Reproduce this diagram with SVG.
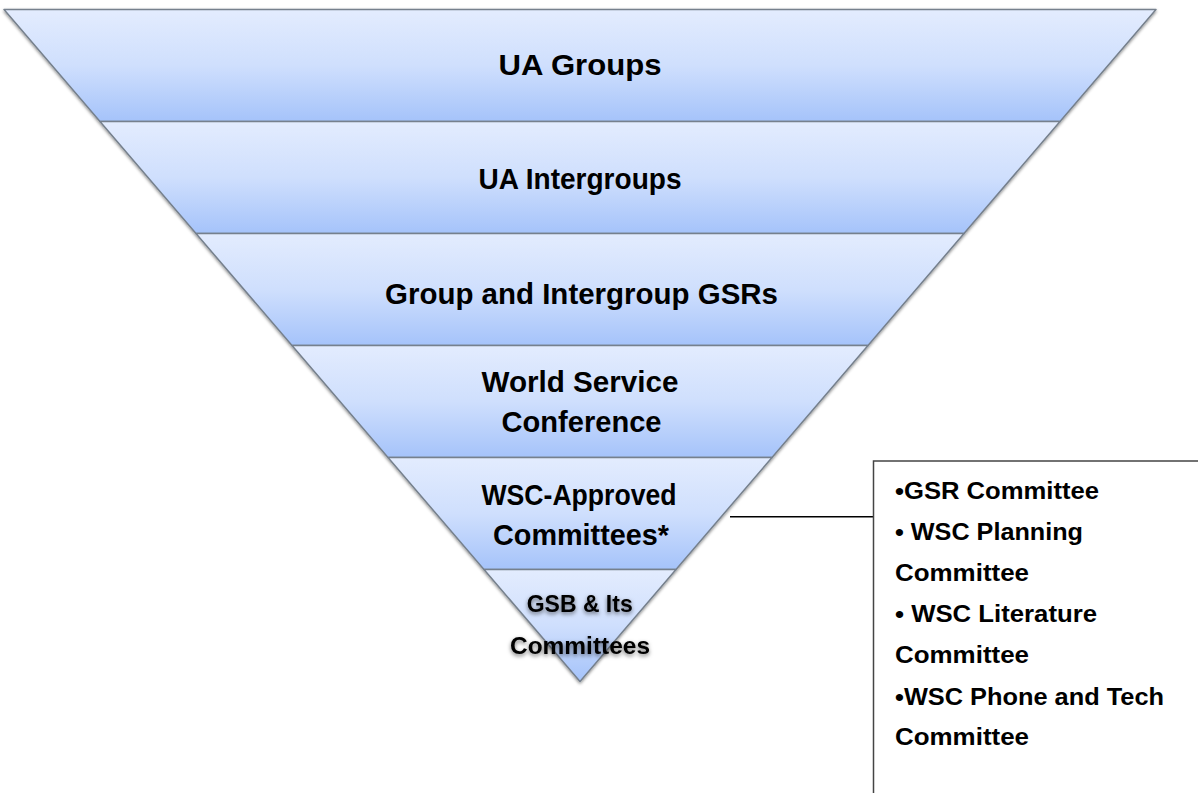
<svg xmlns="http://www.w3.org/2000/svg" width="1198" height="793" viewBox="0 0 1198 793">
  <defs>
    <linearGradient id="band" x1="0" y1="0" x2="0" y2="1">
      <stop offset="0" stop-color="#e3ecfe"/>
      <stop offset="0.5" stop-color="#cfdffd"/>
      <stop offset="1" stop-color="#a5c3fa"/>
    </linearGradient>
    <filter id="shadow" x="-5%" y="-5%" width="110%" height="110%">
      <feDropShadow dx="0" dy="1.5" stdDeviation="1.5" flood-color="#000" flood-opacity="0.45"/>
    </filter>
    <filter id="textshadow" x="-10%" y="-20%" width="120%" height="150%">
      <feDropShadow dx="0" dy="2" stdDeviation="2" flood-color="#000" flood-opacity="0.55"/>
    </filter>
  </defs>
  <style>
    .band { fill: url(#band); stroke: #76808d; stroke-width: 1.5; stroke-linejoin: round; }
    .lbl { font-family: "Liberation Sans", Arial, sans-serif; font-weight: bold; font-size: 30px; fill: #000; text-anchor: middle; }
    .small { font-size: 24px; }
    .list { font-family: "Liberation Sans", Arial, sans-serif; font-weight: bold; font-size: 24px; fill: #000; }
    .box { fill: #fff; stroke: #444; stroke-width: 1.5; }
    .conn { stroke: #000; stroke-width: 1.5; fill: none; }
  </style>
  <rect width="1198" height="793" fill="#fff"/>

  <g id="pyramid" filter="url(#shadow)">
    <g id="band-ua-groups">
      <polygon class="band" points="4,9.5 1156,9.5 1060,121.5 100,121.5"/>
    </g>
    <g id="band-ua-intergroups">
      <polygon class="band" points="100,121.5 1060,121.5 964,233.5 196,233.5"/>
    </g>
    <g id="band-gsrs">
      <polygon class="band" points="196,233.5 964,233.5 868,345.5 292,345.5"/>
    </g>
    <g id="band-wsc">
      <polygon class="band" points="292,345.5 868,345.5 772,457.5 388,457.5"/>
    </g>
    <g id="band-committees">
      <polygon class="band" points="388,457.5 772,457.5 676,569.5 484,569.5"/>
    </g>
    <g id="band-gsb">
      <polygon class="band" points="484,569.5 676,569.5 580,681.5"/>
    </g>
  </g>

  <g id="labels">
    <text class="lbl" x="580" y="75" textLength="163" lengthAdjust="spacingAndGlyphs">UA Groups</text>
    <text class="lbl" x="580" y="189" textLength="203" lengthAdjust="spacingAndGlyphs">UA Intergroups</text>
    <text class="lbl" x="581.5" y="304" textLength="393" lengthAdjust="spacingAndGlyphs">Group and Intergroup GSRs</text>
    <text class="lbl" x="580" y="392" textLength="197" lengthAdjust="spacingAndGlyphs">World Service</text>
    <text class="lbl" x="581.5" y="432" textLength="160" lengthAdjust="spacingAndGlyphs">Conference</text>
    <text class="lbl" x="579" y="505" textLength="195" lengthAdjust="spacingAndGlyphs">WSC-Approved</text>
    <text class="lbl" x="581" y="545" textLength="176" lengthAdjust="spacingAndGlyphs">Committees*</text>
    <g filter="url(#textshadow)">
      <text class="lbl small" x="579.7" y="612" textLength="106" lengthAdjust="spacingAndGlyphs">GSB &amp; Its</text>
      <text class="lbl small" x="580" y="654" textLength="140" lengthAdjust="spacingAndGlyphs">Committees</text>
    </g>
  </g>

  <g id="connectors">
    <line class="conn" x1="730" y1="516.7" x2="873.5" y2="516.7"/>
  </g>

  <g id="committee-list">
    <rect class="box" x="873.5" y="461" width="340" height="400"/>
    <text class="list" x="895" y="499" textLength="204" lengthAdjust="spacingAndGlyphs">•GSR Committee</text>
    <text class="list" x="895" y="540" textLength="188" lengthAdjust="spacingAndGlyphs">• WSC Planning</text>
    <text class="list" x="895" y="581" textLength="134" lengthAdjust="spacingAndGlyphs">Committee</text>
    <text class="list" x="895" y="622" textLength="202" lengthAdjust="spacingAndGlyphs">• WSC Literature</text>
    <text class="list" x="895" y="663" textLength="134" lengthAdjust="spacingAndGlyphs">Committee</text>
    <text class="list" x="895" y="705" textLength="269" lengthAdjust="spacingAndGlyphs">•WSC Phone and Tech</text>
    <text class="list" x="895" y="745" textLength="134" lengthAdjust="spacingAndGlyphs">Committee</text>
  </g>
</svg>
